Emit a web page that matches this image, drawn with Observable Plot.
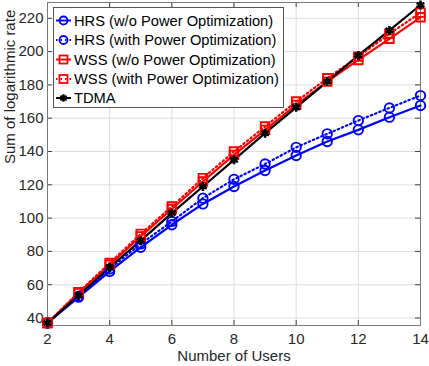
<!DOCTYPE html>
<html><head><meta charset="utf-8">
<script src="https://cdn.jsdelivr.net/npm/d3@7"></script>
<script src="https://cdn.jsdelivr.net/npm/@observablehq/plot@0.6"></script>
<style>
body{margin:0;background:#fff;}
#wrap{position:relative;width:429px;height:366px;overflow:hidden;}
#wrap svg{position:absolute;left:0;top:0;}
</style></head><body><div id="wrap"></div>
<script>
const users = [2, 3, 4, 5, 6, 7, 8, 9, 10, 11, 12, 13, 14];
const hrsWo   = [37, 52.5, 68, 82.5, 96, 108.5, 119, 128.6, 137.6, 146, 153, 160.6, 167.6];
const hrsWith = [37, 53, 69.5, 84.5, 98, 112, 123.3, 132.5, 142.5, 150.6, 158.6, 166.2, 173.6];
const wssWo   = [37, 55, 72, 89, 105.5, 122, 138, 153, 168, 182, 195, 207.7, 220.6];
const wssWith = [37, 55.5, 73, 90.5, 107, 124, 140, 155, 170, 184, 197, 210.7, 223.4];
const tdma    = [37, 53.5, 70.5, 86.5, 103, 119, 135, 151, 166.5, 182, 197.7, 212.7, 228];
const seriesNames = ["HRS (w/o Power Optimization)", "HRS (with Power Optimization)", "WSS (w/o Power Optimization)", "WSS (with Power Optimization)", "TDMA"];
const xTicks = [2, 4, 6, 8, 10, 12, 14];
const yTicks = [40, 60, 80, 100, 120, 140, 160, 180, 200, 220];
const xLabel = "Number of Users";
const yLabel = "Sum of logarithmic rate";

const seriesValues = [hrsWo, hrsWith, wssWo, wssWith, tdma];
const styles = [
  {color: "#0000ff", dash: null, symbol: "circle"},
  {color: "#0000ff", dash: "1.5,3", symbol: "circle"},
  {color: "#ff0000", dash: null, symbol: "square"},
  {color: "#ff0000", dash: "1.5,3", symbol: "square"},
  {color: "#000000", dash: null, symbol: "asterisk"}
];
const data = seriesValues.map((vals, i) => users.map((u, j) => ({u, v: vals[j], s: seriesNames[i]})));

const W = 429, H = 366, mL = 47, mR = 9, mT = 2, mB = 41;
const plotW = W - mL - mR, plotH = H - mT - mB;
const font = "'Liberation Sans', Arial, Helvetica, sans-serif";
const axisColor = "#262626";

const marks = [
  Plot.gridX(xTicks, {stroke: "#dedede", strokeOpacity: 1, strokeWidth: 1}),
  Plot.gridY(yTicks, {stroke: "#dedede", strokeOpacity: 1, strokeWidth: 1}),
  // inward ticks
  Plot.tickY(yTicks, {y: d => d, stroke: "#404040", insetRight: plotW - 5}),
  Plot.tickY(yTicks, {y: d => d, stroke: "#404040", insetLeft: plotW - 5}),
  Plot.tickX(xTicks, {x: d => d, stroke: "#404040", insetTop: plotH - 5}),
  Plot.tickX(xTicks, {x: d => d, stroke: "#404040", insetBottom: plotH - 5}),
  Plot.frame({stroke: "#7a7a7a", strokeWidth: 1}),
  Plot.axisX(xTicks, {tickSize: 0, tickPadding: 8, label: null, fontSize: 15, fill: axisColor}),
  Plot.axisY(yTicks, {tickSize: 0, tickPadding: 4, label: null, fontSize: 15, fill: axisColor}),
  Plot.text([xLabel], {frameAnchor: "bottom", dy: 35, fontSize: 15, fill: axisColor}),
  Plot.text([yLabel], {frameAnchor: "left", dx: -37, rotate: -90, fontSize: 15, fill: axisColor})
];
data.forEach((d, i) => {
  const st = styles[i];
  marks.push(Plot.line(d, {x: "u", y: "v", stroke: st.color, strokeWidth: 2.2, strokeDasharray: st.dash}));
});
data.forEach((d, i) => {
  const st = styles[i];
  if (st.symbol === "asterisk") {
    marks.push(Plot.dot(d, {x: "u", y: "v", symbol: "asterisk", r: 4.2, stroke: "#000", strokeWidth: 2.6}));
    marks.push(Plot.dot(d, {x: "u", y: "v", symbol: "circle", r: 2.6, fill: "#000"}));
  } else {
    marks.push(Plot.dot(d, {x: "u", y: "v", symbol: st.symbol, r: st.symbol === "square" ? 4.8 : 4.7, stroke: st.color, strokeWidth: 1.9, fill: "none"}));
  }
});

const chart = Plot.plot({
  width: W, height: H,
  marginLeft: mL, marginRight: mR, marginTop: mT, marginBottom: mB,
  style: {fontFamily: font, background: "#fff", overflow: "visible"},
  x: {domain: [2, 14]},
  y: {domain: [35.5, 229.5]},
  marks
});
document.getElementById("wrap").appendChild(chart);

// legend overlay
const leg = d3.select("#wrap").append("svg").attr("width", W).attr("height", H)
  .style("font-family", font).style("pointer-events", "none");
const lx = 53.5, ly = 7.5, lw = 230, lh = 100;
leg.append("rect").attr("x", lx).attr("y", ly).attr("width", lw).attr("height", lh)
  .attr("fill", "#fff").attr("stroke", "#555").attr("stroke-width", 1);
const rowY = [20.5, 40, 59.5, 79, 98];
seriesNames.forEach((name, i) => {
  const st = styles[i];
  const g = leg.append("g").attr("transform", `translate(0,${rowY[i]})`);
  g.append("line").attr("x1", 56).attr("x2", 71).attr("y1", 0).attr("y2", 0)
    .attr("stroke", st.color).attr("stroke-width", 2).attr("stroke-dasharray", st.dash);
  const cx = 63.5;
  if (st.symbol === "circle") {
    g.append("circle").attr("cx", cx).attr("cy", 0).attr("r", 4).attr("fill", "none").attr("stroke", st.color).attr("stroke-width", 1.8);
  } else if (st.symbol === "square") {
    g.append("rect").attr("x", cx - 4).attr("y", -4).attr("width", 8).attr("height", 8).attr("fill", "none").attr("stroke", st.color).attr("stroke-width", 1.8);
  } else {
    g.append("path").attr("d", d3.symbol(d3.symbolAsterisk, 40)()).attr("transform", `translate(${cx},0)`).attr("stroke", "#000").attr("stroke-width", 2.4);
    g.append("circle").attr("cx", cx).attr("cy", 0).attr("r", 2.2).attr("fill", "#000");
  }
  g.append("text").attr("x", 74).attr("y", 0).attr("dy", "0.35em").attr("font-size", 14.7).attr("fill", "#000").text(name);
});
</script>
</body></html>
